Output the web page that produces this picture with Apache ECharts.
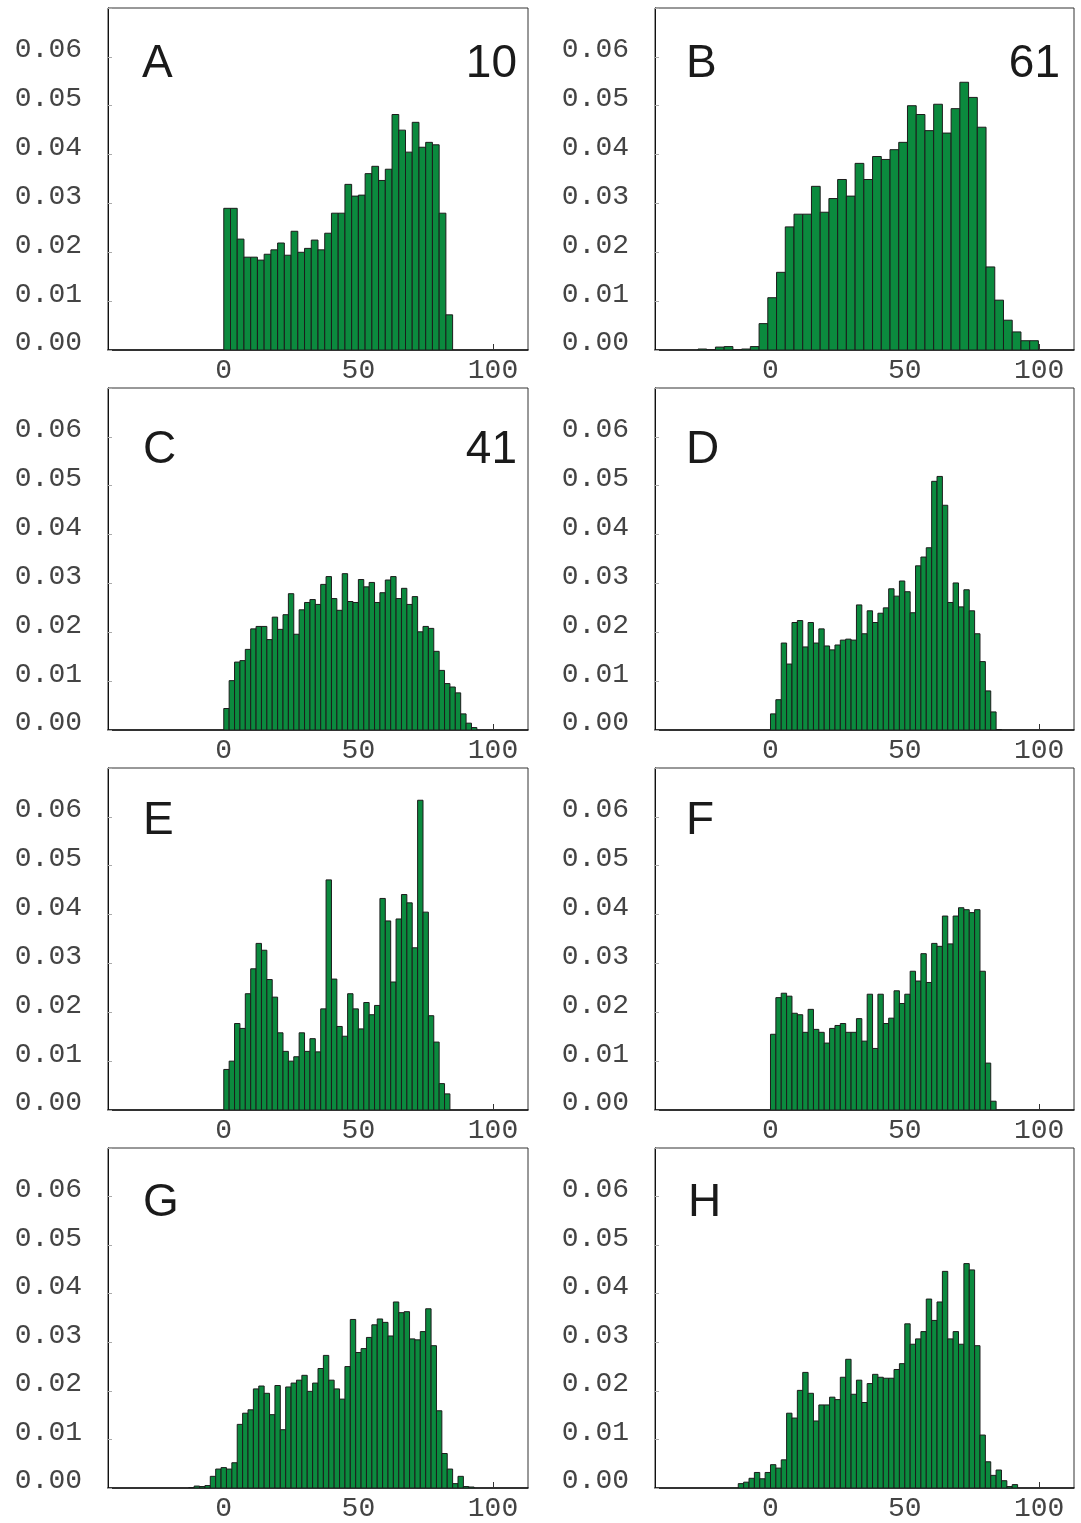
<!DOCTYPE html>
<html><head><meta charset="utf-8">
<script src="https://cdn.jsdelivr.net/npm/echarts@6/dist/echarts.min.js"></script>
<style>html,body{margin:0;padding:0;background:#fff}#c{width:1081px;height:1523px}</style>
</head><body><div id="c"></div>
<script>
// ---------- data ----------
const panelLetters = ['A','B','C','D','E','F','G','H'];
const panelNumbers = ['10','61','41','','','','',''];
const xTickValues = [0, 50, 100];
const yTickLabels = ['0.00','0.01','0.02','0.03','0.04','0.05','0.06'];

const binStartA = 0, binWidthA = 2.5;
const valuesA = [0.0290,0.0290,0.0227,0.0190,0.0190,0.0184,0.0196,0.0205,0.0219,0.0194,0.0243,0.0200,0.0208,0.0225,0.0205,0.0239,0.0280,0.0280,0.0339,0.0315,0.0317,0.0361,0.0376,0.0347,0.0370,0.0482,0.0450,0.0405,0.0466,0.0415,0.0425,0.0420,0.0280,0.0072];

const binStartB = -27, binWidthB = 3.25;
const valuesB = [0.0002,0,0.0006,0.0007,0,0.0002,0.0007,0.0054,0.0107,0.0159,0.0252,0.0278,0.0278,0.0335,0.0282,0.0310,0.0349,0.0315,0.0382,0.0349,0.0396,0.0390,0.0410,0.0425,0.0500,0.0482,0.0449,0.0503,0.0444,0.0494,0.0548,0.0517,0.0456,0.0170,0.0102,0.0061,0.0037,0.0019,0.0019];

const binStartC = 0, binWidthC = 2;
const valuesC = [0.0044,0.0101,0.0139,0.0142,0.0165,0.0207,0.0212,0.0212,0.0185,0.0231,0.0206,0.0236,0.0279,0.0196,0.0246,0.0261,0.0267,0.0257,0.0298,0.0314,0.0269,0.0245,0.0320,0.0263,0.0261,0.0308,0.0293,0.0302,0.0261,0.0281,0.0307,0.0314,0.0269,0.0290,0.0257,0.0273,0.0201,0.0212,0.0208,0.0161,0.0122,0.0095,0.0088,0.0076,0.0033,0.0014,0.0005];

const binStartD = 0, binWidthD = 2;
const valuesD = [0.0033,0.0062,0.0178,0.0135,0.0220,0.0224,0.0170,0.0220,0.0178,0.0207,0.0172,0.0164,0.0174,0.0184,0.0186,0.0184,0.0256,0.0197,0.0244,0.0220,0.0239,0.0250,0.0289,0.0274,0.0305,0.0283,0.0240,0.0336,0.0354,0.0373,0.0509,0.0519,0.0460,0.0261,0.0301,0.0252,0.0287,0.0244,0.0197,0.0140,0.0080,0.0037,0.0001];

const binStartE = 0, binWidthE = 2;
const valuesE = [0.0083,0.0100,0.0177,0.0167,0.0238,0.0289,0.0341,0.0327,0.0267,0.0231,0.0158,0.0120,0.0100,0.0109,0.0158,0.0120,0.0146,0.0119,0.0207,0.0471,0.0268,0.0171,0.0151,0.0238,0.0207,0.0166,0.0220,0.0195,0.0214,0.0433,0.0387,0.0262,0.0391,0.0441,0.0424,0.0332,0.0634,0.0405,0.0193,0.0139,0.0054,0.0033];

const binStartF = 0, binWidthF = 2;
const valuesF = [0.0155,0.0230,0.0239,0.0233,0.0198,0.0195,0.0159,0.0206,0.0165,0.0159,0.0137,0.0167,0.0173,0.0177,0.0159,0.0159,0.0187,0.0141,0.0237,0.0126,0.0237,0.0177,0.0188,0.0244,0.0218,0.0237,0.0284,0.0264,0.0320,0.0261,0.0341,0.0335,0.0397,0.0340,0.0397,0.0414,0.0410,0.0404,0.0410,0.0284,0.0096,0.0018];

const binStartG = -13, binWidthG = 2;
const valuesG = [0.0001,0.0004,0.0003,0.0005,0.0024,0.0039,0.0042,0.0039,0.0052,0.0131,0.0154,0.0161,0.0204,0.0210,0.0195,0.0151,0.0211,0.0120,0.0208,0.0216,0.0222,0.0232,0.0199,0.0216,0.0246,0.0273,0.0222,0.0204,0.0183,0.0250,0.0347,0.0279,0.0287,0.0310,0.0336,0.0348,0.0341,0.0313,0.0383,0.0361,0.0363,0.0307,0.0305,0.0322,0.0369,0.0293,0.0159,0.0071,0.0039,0.0009,0.0024,0.0003,0.0002];

const binStartH = -12, binWidthH = 2;
const valuesH = [0.0009,0.0012,0.0020,0.0032,0.0019,0.0032,0.0048,0.0041,0.0058,0.0154,0.0144,0.0201,0.0238,0.0195,0.0138,0.0171,0.0171,0.0187,0.0182,0.0228,0.0265,0.0193,0.0222,0.0176,0.0215,0.0234,0.0228,0.0226,0.0226,0.0244,0.0256,0.0338,0.0296,0.0307,0.0322,0.0389,0.0345,0.0383,0.0446,0.0307,0.0322,0.0296,0.0462,0.0449,0.0293,0.0109,0.0054,0.0026,0.0037,0.0015,0.0003,0.0007];

const panels = [
  [binStartA, binWidthA, valuesA],
  [binStartB, binWidthB, valuesB],
  [binStartC, binWidthC, valuesC],
  [binStartD, binWidthD, valuesD],
  [binStartE, binWidthE, valuesE],
  [binStartF, binWidthF, valuesF],
  [binStartG, binWidthG, valuesG],
  [binStartH, binWidthH, valuesH]
];

// ---------- layout ----------
const colLeft = [108, 655];
const colWidth = [420, 419];
const rowTop = [8, 388, 768, 1148];
const plotH = 342;
const letterTop = [41, 41, 427, 427, 798, 798, 1180, 1180];
const letterLeft = [142, 686, 143, 686, 143, 686, 143, 688];

const BAR_FILL = '#0b8a3e';
const MONO = 'Liberation Mono';

function renderItem(params, api) {
  const x0 = api.value(0), x1 = api.value(1), v = api.value(2);
  const p0 = api.coord([x0, 0]);
  const p1 = api.coord([x1, v]);
  return {
    type: 'rect',
    shape: { x: p0[0], y: p1[1], width: p1[0] - p0[0], height: p0[1] - p1[1] },
    style: { fill: BAR_FILL, stroke: '#1c1c1c', lineWidth: 1 }
  };
}

const grid = [], xAxis = [], yAxis = [], series = [], title = [];
panels.forEach((p, i) => {
  const col = i % 2, row = Math.floor(i / 2);
  grid.push({ left: colLeft[col], top: rowTop[row], width: colWidth[col], height: plotH,
    show: true, borderColor: '#333', borderWidth: 1, containLabel: false });
  xAxis.push({ type: 'value', gridIndex: i, min: -43, max: 113,
    axisLine: { show: true, onZero: false, lineStyle: { color: '#111', width: 1.5 } },
    axisTick: { show: true, inside: true, length: 6, customValues: xTickValues, lineStyle: { color: '#333' } },
    axisLabel: { show: true, customValues: xTickValues, margin: 7, fontFamily: MONO, fontSize: 28, color: '#444' },
    splitLine: { show: false } });
  yAxis.push({ type: 'value', gridIndex: i, min: 0, max: 0.07, interval: 0.01,
    axisLine: { show: true, onZero: false, lineStyle: { color: '#111', width: 1 } },
    axisTick: { show: true, inside: true, length: 4, lineStyle: { color: '#aaa' } },
    axisLabel: { show: true, margin: 26, fontFamily: MONO, fontSize: 28, color: '#444',
      verticalAlign: 'bottom', lineHeight: 14,
      formatter: (v) => { const k = Math.round(v * 100); return k <= 6 ? yTickLabels[k] : ''; } },
    splitLine: { show: false } });
  const [start, width, vals] = p;
  const data = vals.map((v, k) => [start + k * width, start + (k + 1) * width, v]);
  series.push({ type: 'custom', xAxisIndex: i, yAxisIndex: i, renderItem, data,
    encode: { x: [0, 1], y: 2 }, clip: true, silent: true });
  title.push({ text: panelLetters[i], left: letterLeft[i], top: letterTop[i], padding: 0,
    textStyle: { fontFamily: 'Liberation Sans', fontSize: 46, fontWeight: 'normal', color: '#1a1a1a' } });
  if (panelNumbers[i]) {
    const rightEdge = col === 0 ? 517 : 1060;
    title.push({ text: panelNumbers[i], right: 1081 - rightEdge, top: letterTop[i], padding: 0,
      textStyle: { fontFamily: 'Liberation Sans', fontSize: 46, fontWeight: 'normal', color: '#1a1a1a' } });
  }
});

const chart = echarts.init(document.getElementById('c'), null, { renderer: 'canvas' });
chart.setOption({ animation: false, backgroundColor: '#fff', title, grid, xAxis, yAxis, series });
</script>
</body></html>
